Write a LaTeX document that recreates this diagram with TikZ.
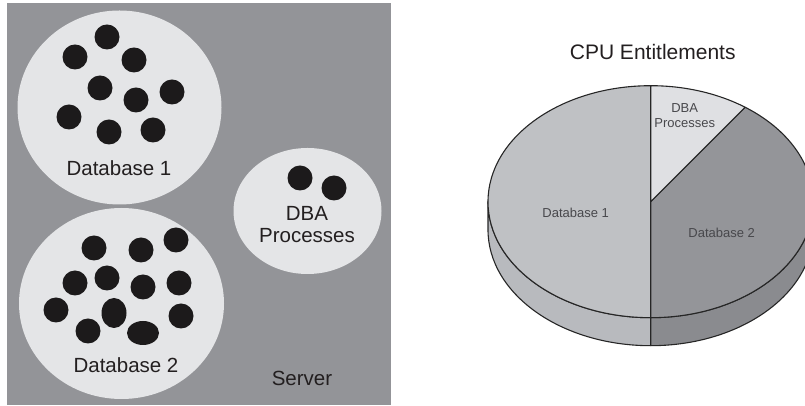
\documentclass[tikz,border=0pt]{standalone}
\usepackage{fontspec}
\setmainfont{Liberation Sans}
\usetikzlibrary{shapes.geometric}

\definecolor{servergray}{RGB}{147,148,152}
\definecolor{poolgray}{RGB}{228,229,231}
\definecolor{dotblack}{RGB}{28,26,27}
\definecolor{inkdark}{RGB}{35,31,32}
\definecolor{sliceone}{RGB}{191,193,196}
\definecolor{sideone}{RGB}{184,186,190}
\definecolor{slicetwo}{RGB}{148,149,153}
\definecolor{sidetwo}{RGB}{138,139,143}
\definecolor{slicedba}{RGB}{223,224,227}
\definecolor{pieink}{RGB}{72,72,76}

\begin{document}
\begin{tikzpicture}[x=1pt,y=1pt]
			\tikzstyle{pool}=[ellipse,fill=poolgray,inner sep=0pt]
			\tikzstyle{proc}=[ellipse,fill=dotblack,inner sep=0pt,minimum width=25pt,minimum height=25pt]
			\tikzstyle{big label}=[text=inkdark,font=\fontsize{20.5}{22}\selectfont,align=center,inner sep=0pt]
			\tikzstyle{pie label}=[text=pieink,font=\fontsize{13}{15}\selectfont,align=center,inner sep=0pt]
			\tikzstyle{rim}=[draw=black!85,line width=1.1pt,line join=round]
			
			\useasboundingbox (0,0) rectangle (805,406);
			
			% server
			\path[fill=servergray] (7,1) rectangle (391,403);
			\node[pool,minimum width=204pt,minimum height=194pt] (db1) at (119.5,298.5) {};
			\node[pool,minimum width=205pt,minimum height=191pt] (db2) at (121.5,102.5) {};
			\node[pool,minimum width=148pt,minimum height=126pt] (dba) at (307.5,195) {};
			
			\node[proc] (a1) at (107,369) {};
			\node[proc] (a2) at (75,349) {};
			\node[proc] (a3) at (134,346) {};
			\node[proc] (a4) at (100,318) {};
			\node[proc] (a5) at (172,314) {};
			\node[proc] (a6) at (136,306) {};
			\node[proc] (a7) at (69,289) {};
			\node[proc] (a8) at (109,274) {};
			\node[proc] (a9) at (153,276) {};
			
			\node[proc] (b1) at (94,158) {};
			\node[proc] (b2) at (141,156) {};
			\node[proc] (b3) at (176,166) {};
			\node[proc] (b4) at (75,123) {};
			\node[proc] (b5) at (107,128) {};
			\node[proc] (b6) at (143,119) {};
			\node[proc] (b7) at (179,123) {};
			\node[proc] (b8) at (56,96) {};
			\node[proc,minimum height=30pt] (b9) at (114,93) {};
			\node[proc] (b10) at (88,75) {};
			\node[proc,minimum width=32pt,minimum height=24pt] (b11) at (143,73) {};
			\node[proc] (b12) at (181,90) {};
			
			\node[proc] (c1) at (300,228) {};
			\node[proc] (c2) at (334,218) {};
			
			\node[big label] (l1) at (119,238) {Database 1};
			\node[big label] (l2) at (126,41) {Database 2};
			\node[big label] (l3) at (307,181) {DBA\\Processes};
			\node[big label] (srv) at (302,28) {Server};
			
			% pie
			\coordinate (pc) at (650.7,204.3);
			\begin{scope}
			\clip (400,0) rectangle (805,406);
			\path[fill=sideone,rim] (pc) ++(-162.7,0) arc[start angle=180,end angle=270,x radius=162.7pt,y radius=116pt] -- ++(0,-28) arc[start angle=270,end angle=180,x radius=162.7pt,y radius=116pt] -- cycle;
			\path[fill=sidetwo,rim] (pc) ++(0,-116) arc[start angle=270,end angle=360,x radius=162.7pt,y radius=116pt] -- ++(0,-28) arc[start angle=360,end angle=270,x radius=162.7pt,y radius=116pt] -- cycle;
			\path[fill=sliceone,rim] (pc) -- ++(0,116) arc[start angle=90,end angle=270,x radius=162.7pt,y radius=116pt] -- cycle;
			\path[fill=slicetwo,rim] (pc) -- ++(0,-116) arc[start angle=-90,end angle=54.5,x radius=162.7pt,y radius=116pt] -- cycle;
			\path[fill=slicedba,rim] (pc) -- ++(54.5:162.7pt and 116pt) arc[start angle=54.5,end angle=90,x radius=162.7pt,y radius=116pt] -- cycle;
			\end{scope}
			
			\node[big label,font=\fontsize{21}{24}\selectfont] (title) at (652.7,354.3) {CPU Entitlements};
			\node[pie label] (p1) at (575.7,192.7) {Database 1};
			\node[pie label] (p2) at (721.7,172.7) {Database 2};
			\node[pie label] (p3) at (684.7,290.3) {DBA\\Processes};
		\end{tikzpicture}
\end{document}
